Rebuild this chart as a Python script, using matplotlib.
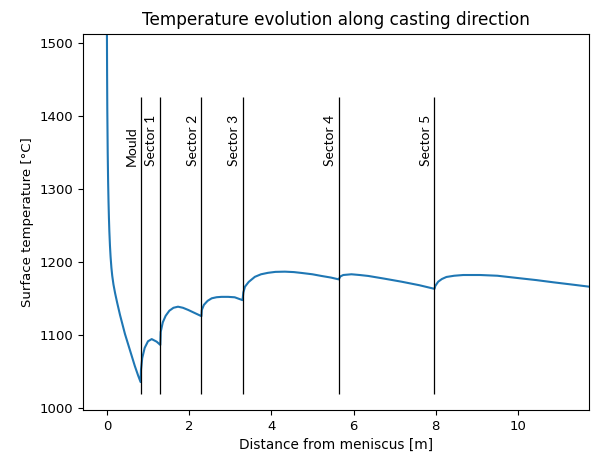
import matplotlib
matplotlib.use("Agg")
import matplotlib.pyplot as plt

# distance from meniscus [m] and surface temperature [C], read per zone
mould_x = [0.0, 0.005, 0.01, 0.02, 0.03, 0.04, 0.05, 0.06, 0.075, 0.09, 0.11, 0.13, 0.16, 0.2, 0.25,
           0.32, 0.44, 0.56, 0.68, 0.76, 0.82]
mould_t = [1530, 1460, 1410, 1350, 1310, 1282, 1260, 1242, 1222, 1207, 1192, 1181, 1169, 1157, 1144,
           1127, 1101, 1079, 1057, 1044, 1035]

s1_x = [0.82, 0.83, 0.86, 0.92, 1.0, 1.09, 1.21, 1.3]
s1_t = [1035, 1052, 1068, 1082, 1091, 1094, 1090.5, 1086]

s2_x = [1.3, 1.31, 1.36, 1.43, 1.52, 1.62, 1.73, 1.85, 1.98, 2.13, 2.3]
s2_t = [1086, 1104, 1117, 1126, 1133, 1137, 1138.5, 1137, 1134, 1130, 1125.5]

s3_x = [2.3, 2.31, 2.36, 2.45, 2.55, 2.67, 2.79, 2.95, 3.11, 3.3]
s3_t = [1125.5, 1134, 1141, 1146.5, 1150, 1151.5, 1152, 1152, 1151.4, 1147.5]

s4_x = [3.3, 3.32, 3.36, 3.45, 3.6, 3.75, 3.92, 4.1, 4.33, 4.55, 4.74, 5.0, 5.22, 5.45, 5.64]
s4_t = [1147.5, 1158, 1166, 1172.5, 1179.5, 1183, 1185, 1186.3, 1186.6, 1186, 1184.8, 1183, 1180.7, 1178.5, 1176]

s5_x = [5.64, 5.68, 5.75, 5.95, 6.15, 6.36, 6.75, 7.17, 7.6, 7.97]
s5_t = [1176, 1180, 1182, 1183, 1182, 1180.7, 1177, 1172.8, 1168, 1163]

s6_x = [7.97, 7.99, 8.06, 8.15, 8.26, 8.45, 8.67, 9.08, 9.5, 10.05, 10.45, 10.86, 11.3, 11.73]
s6_t = [1163, 1167, 1172.8, 1176.5, 1179.3, 1181, 1182, 1182, 1181, 1177.5, 1175, 1172, 1169, 1166]

zone_ends = [0.82, 1.3, 2.3, 3.3, 5.64, 7.97]
zone_names = ["Mould", "Sector 1", "Sector 2", "Sector 3", "Sector 4", "Sector 5"]


def main():
    x = mould_x + s1_x + s2_x + s3_x + s4_x + s5_x + s6_x
    t = mould_t + s1_t + s2_t + s3_t + s4_t + s5_t + s6_t

    fig = plt.figure(figsize=(5.92, 4.59), dpi=100)
    ax = fig.add_axes([0.140, 0.107, 0.855, 0.820])

    ax.plot(x, t, color="#1f77b4", linewidth=1.5)

    # zone boundaries with names
    ax.vlines(zone_ends, 1019, 1427, colors="black", linewidth=0.9)
    for xe, name in zip(zone_ends, zone_names):
        ax.text(xe - 0.07, 1331, name, rotation=90, ha="right", va="bottom",
                fontsize=10, family=["Lato", "DejaVu Sans"])

    ax.set_xlim(-0.584, 11.73)
    ax.set_ylim(996.8, 1513.6)
    ax.set_title("Temperature evolution along casting direction", fontsize=12.2)
    ax.set_xlabel("Distance from meniscus [m]", fontsize=9.8)
    ax.set_ylabel("Surface temperature [°C]", fontsize=9.5)
    ax.tick_params(labelsize=9.5)

    fig.savefig("out.png", dpi=100)


if __name__ == "__main__":
    main()
